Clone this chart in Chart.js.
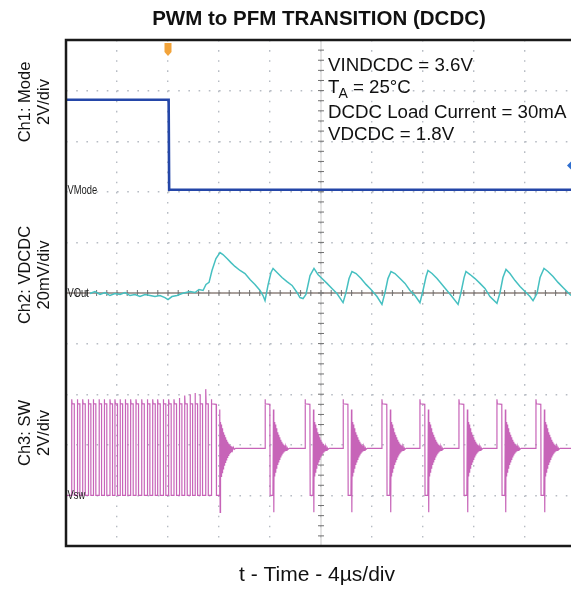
<!DOCTYPE html>
<html lang="en">
<head>
<meta charset="utf-8">
<title>PWM to PFM Transition (DCDC)</title>
<script src="https://cdn.jsdelivr.net/npm/chart.js"></script>
<style>
  html, body { margin: 0; padding: 0; background: #fff; overflow: hidden; }
  #wrap { width: 590px; height: 589px; }
</style>
</head>
<body>
<div id="wrap"><canvas id="scopeChart" width="590" height="589"></canvas></div>
<script>
// time base: 4 us/div, trigger at t = 0
const timeMin = -8, timeMax = 32, timePerDiv = 4;

// Ch1: Mode (V), 2V/div
const modeTime = [-8, 0.05, 0.09, 32];
const modeVolts = [3.56, 3.56, 0, 0];

// Ch2: VDCDC ripple (mV around 1.8V), 20mV/div
const outTime = [-6.12, -5.73, -5.33, -4.94, -4.55, -4.16, -3.76, -3.37, -2.98, -2.59, -2.20, -1.80, -1.41, -1.02, -0.63, -0.24, 0, 0.31, 0.71, 1.10, 1.41, 1.73, 2.12, 2.43, 2.75, 2.98, 3.22, 3.45, 3.76, 4.08, 4.31, 4.63, 4.94, 5.25, 5.65, 6.04, 6.43, 6.82, 7.22, 7.45, 7.61, 7.84, 8.08, 8.24, 8.55, 8.94, 9.33, 9.73, 10.12, 10.35, 10.59, 10.82, 11.14, 11.45, 11.76, 12.08, 12.47, 12.86, 13.25, 13.73, 13.96, 14.20, 14.43, 14.75, 15.14, 15.53, 15.92, 16.39, 16.78, 17.02, 17.25, 17.49, 17.80, 18.20, 18.59, 18.98, 19.37, 19.76, 20.00, 20.24, 20.39, 20.71, 21.10, 21.49, 21.88, 22.27, 22.75, 22.98, 23.22, 23.37, 23.69, 24.08, 24.47, 24.86, 25.25, 25.80, 26.04, 26.27, 26.51, 26.82, 27.22, 27.61, 28.00, 28.39, 28.63, 28.94, 29.18, 29.49, 29.80, 30.20, 30.59, 30.98, 31.37, 31.61];
const outMv = [-0.2, 0.6, -0.6, 0.2, -1.0, -0.2, -0.6, 0.2, -1.0, -0.6, -1.4, -0.6, -1.0, -1.4, -1.0, -1.8, -2.6, -1.4, -1.0, -0.2, 0.2, 0.6, 0.2, 1.4, 1.0, 3.4, 4.2, 8.9, 13.6, 16.0, 15.2, 13.6, 12.0, 10.5, 8.9, 7.7, 5.3, 3.4, 1.0, -1.0, -3.0, 3.0, 8.1, 9.7, 8.1, 6.1, 4.5, 3.0, 0.2, -1.8, -2.2, -0.6, 6.9, 9.7, 7.3, 5.7, 3.8, 1.8, -0.2, -3.8, 0.2, 5.7, 8.5, 7.7, 5.7, 3.4, 1.4, -1.4, -4.5, 0.2, 5.7, 8.5, 7.7, 5.7, 3.8, 1.0, -1.0, -3.8, 1.0, 6.5, 8.9, 7.7, 5.7, 3.4, 1.0, -1.4, -4.5, 0.2, 6.1, 8.5, 7.3, 5.7, 3.8, 1.8, -1.4, -4.1, 0.2, 6.1, 9.3, 7.7, 4.9, 2.6, 0.6, -1.4, -3.0, -0.2, 6.1, 9.7, 8.5, 6.5, 4.2, 2.2, 0.2, -1.0];

// Ch3: SW (V), 2V/div
const pwmRise = [-7.55, -7.11, -6.69, -6.25, -5.86, -5.41, -5.00, -4.55, -4.16, -3.76, -3.35, -2.93, -2.51, -2.06, -1.62, -1.20, -0.81, -0.37, 0.05, 0.47, 0.89, 1.31, 1.73, 2.12, 2.51, 2.96];
const pwmFall = [-7.35, -6.91, -6.49, -6.05, -5.66, -5.21, -4.80, -4.35, -3.96, -3.56, -3.15, -2.73, -2.31, -1.86, -1.42, -1.00, -0.61, -0.17, 0.25, 0.67, 1.09, 1.51, 1.93, 2.32, 2.71, 3.16];
const pwmPeak = [3.8, 3.8, 3.8, 3.8, 3.8, 3.8, 3.8, 3.8, 3.8, 3.8, 3.8, 3.8, 3.8, 3.8, 3.8, 3.8, 3.8, 3.8, 3.8, 3.8, 3.85, 3.95, 4.0, 4.05, 4.0, 4.2];
const pfmStart = [3.40, 7.61, 10.75, 13.73, 16.78, 19.76, 22.82, 25.80, 28.86];
// one PFM pulse (offset us, volts)
const pulseDt = [0, 0.03, 0.38, 0.40, 0.62, 0.66, 0.69, 0.72, 0.76, 0.80, 0.84, 0.88, 0.92, 0.96, 1.00, 1.04, 1.08, 1.12, 1.16, 1.20, 1.24, 1.28, 1.32, 1.36, 1.40, 1.44, 1.48, 1.52, 1.56, 1.60, 1.66, 1.72, 1.80, 1.90];
const pulseV = [3.8, 3.62, 3.6, 0, 0, 3.4, -0.67, 2.9, 0.75, 2.8, 0.9, 2.65, 1.05, 2.5, 1.2, 2.4, 1.3, 2.3, 1.4, 2.2, 1.5, 2.12, 1.58, 2.05, 1.65, 2.0, 1.7, 1.96, 1.74, 1.93, 1.78, 1.9, 1.82, 1.86];

// channel placement on the 10-div screen: zero position (div) and units per div
const chMode = { zero: 2.04, perDiv: 2 };
const chOut = { zero: 0, perDiv: 20 };
const chSw = { zero: -4, perDiv: 2 };
const modeTrigLevel = 0.96; // V, blue marker on the right edge

const place = (v, ch) => ch.zero + v / ch.perDiv;

const modePts = modeTime.map((t, i) => ({ x: t, y: place(modeVolts[i], chMode) }));
const outPts = outTime.map((t, i) => ({ x: t, y: place(outMv[i], chOut) }));

const swRaw = [{ x: timeMin, y: 0 }];
pwmRise.forEach((r, i) => {
    swRaw.push({ x: r, y: 0 }, { x: r, y: pwmPeak[i] }, { x: r + 0.03, y: 3.62 },
               { x: pwmFall[i], y: 3.62 }, { x: pwmFall[i], y: 0 });
});
pfmStart.forEach(s => {
    swRaw.push({ x: s, y: swRaw[swRaw.length - 1].y });
    pulseDt.forEach((d, j) => swRaw.push({ x: s + d, y: pulseV[j] }));
});
swRaw.push({ x: timeMax, y: swRaw[swRaw.length - 1].y });
const swPts = swRaw.map(p => ({ x: p.x, y: place(p.y, chSw) }));

const FONT = '"Liberation Sans", Arial, sans-serif';

const scopeDecor = {
    id: 'scopeDecor',
    beforeDatasetsDraw(chart) {
        const { ctx, chartArea: a, scales: { x, y } } = chart;
        const cx = x.getPixelForValue(12), cy = y.getPixelForValue(0);
        ctx.save();
        // centre axes with minor ticks
        ctx.strokeStyle = '#8d817b';
        ctx.lineWidth = 1.5;
        ctx.beginPath();
        ctx.moveTo(a.left, cy); ctx.lineTo(a.right, cy);
        ctx.stroke();
        ctx.strokeStyle = '#c9c9c9';
        ctx.lineWidth = 1;
        ctx.beginPath();
        ctx.moveTo(cx, a.top); ctx.lineTo(cx, a.bottom);
        ctx.stroke();
        ctx.strokeStyle = '#707070';
        ctx.lineWidth = 1;
        ctx.beginPath();
        for (let v = timeMin; v <= timeMax; v += timePerDiv / 5) {
            const px = x.getPixelForValue(v);
            ctx.moveTo(px, cy - 3); ctx.lineTo(px, cy + 3);
        }
        for (let v = -5; v <= 5.001; v += 0.2) {
            const py = y.getPixelForValue(v);
            ctx.moveTo(cx - 3, py); ctx.lineTo(cx + 3, py);
        }
        ctx.stroke();
        ctx.restore();
    },
    afterDraw(chart) {
        const { ctx, chartArea: a, scales: { x, y } } = chart;
        ctx.save();
        // frame
        ctx.strokeStyle = '#1a1a1a';
        ctx.lineWidth = 2.5;
        ctx.strokeRect(a.left, a.top, a.right - a.left, a.bottom - a.top);

        // title
        ctx.fillStyle = '#111';
        ctx.textAlign = 'center';
        ctx.textBaseline = 'alphabetic';
        ctx.font = 'bold 20.5px ' + FONT;
        ctx.fillText('PWM to PFM TRANSITION (DCDC)', 319, 25);

        // x label
        ctx.font = '21px ' + FONT;
        ctx.fillText('t - Time - 4\u00b5s/div', 317, 581);

        // channel labels on the left
        const side = [
            ['Ch1: Mode', '2V/div', 102],
            ['Ch2: VDCDC', '20mV/div', 275],
            ['Ch3: SW', '2V/div', 433]
        ];
        ctx.font = '16.5px ' + FONT;
        ctx.textBaseline = 'middle';
        side.forEach(([l1, l2, yc]) => {
            ctx.save();
            ctx.translate(25, yc);
            ctx.rotate(-Math.PI / 2);
            ctx.fillText(l1, 0, 0);
            ctx.restore();
            ctx.save();
            ctx.translate(44, yc);
            ctx.rotate(-Math.PI / 2);
            ctx.fillText(l2, 0, 0);
            ctx.restore();
        });

        // conditions box
        ctx.textAlign = 'left';
        ctx.textBaseline = 'alphabetic';
        const big = '18.7px ' + FONT;
        ctx.font = big;
        const tx = 328;
        ctx.fillText('VINDCDC = 3.6V', tx, 71);
        ctx.fillText('T', tx, 93);
        let w = ctx.measureText('T').width;
        ctx.font = '14px ' + FONT;
        ctx.fillText('A', tx + w - 1, 98);
        w += ctx.measureText('A').width;
        ctx.font = big;
        ctx.fillText(' = 25\u00b0C', tx + w - 1, 93);
        ctx.fillText('DCDC Load Current = 30mA', tx, 118);
        ctx.fillText('VDCDC = 1.8V', tx, 140);

        // ground markers
        ctx.font = '13px ' + FONT;
        ctx.fillStyle = '#1e1e1e';
        ctx.textBaseline = 'middle';
        [['VMode', chMode], ['VOut', chOut], ['Vsw', chSw]].forEach(([txt, ch]) => {
            ctx.save();
            ctx.translate(a.left + 1.5, y.getPixelForValue(ch.zero) + 0.5);
            ctx.scale(0.72, 1);
            ctx.fillText(txt, 0, 0);
            ctx.restore();
        });

        // trigger position marker
        const trx = x.getPixelForValue(0);
        ctx.fillStyle = '#f2a33a';
        ctx.beginPath();
        ctx.moveTo(trx - 3.5, a.top + 3);
        ctx.lineTo(trx + 3.5, a.top + 3);
        ctx.lineTo(trx + 3.5, a.top + 12);
        ctx.lineTo(trx, a.top + 16);
        ctx.lineTo(trx - 3.5, a.top + 12);
        ctx.closePath();
        ctx.fill();

        // trigger level marker at the right edge
        const lvy = y.getPixelForValue(place(modeTrigLevel, chMode));
        ctx.fillStyle = '#2f6fd0';
        ctx.beginPath();
        ctx.moveTo(567, lvy);
        ctx.lineTo(573, lvy - 6);
        ctx.lineTo(579, lvy);
        ctx.lineTo(573, lvy + 6);
        ctx.closePath();
        ctx.fill();
        ctx.restore();
    }
};

const gridStyle = { color: '#b7bcc4', lineWidth: 1.4, drawTicks: false };

new Chart(document.getElementById('scopeChart').getContext('2d'), {
    type: 'line',
    data: {
        datasets: [
            { label: 'Ch3: SW', data: swPts, borderColor: '#c764b8', borderWidth: 1.2 },
            { label: 'Ch2: VDCDC', data: outPts, borderColor: '#46c0c1', borderWidth: 1.5 },
            { label: 'Ch1: Mode', data: modePts, borderColor: '#2446a8', borderWidth: 2.6 }
        ]
    },
    options: {
        responsive: false,
        animation: false,
        layout: { padding: { left: 66, top: 40, right: 14, bottom: 43 } },
        elements: { point: { radius: 0 }, line: { tension: 0 } },
        plugins: { legend: { display: false }, tooltip: { enabled: false } },
        scales: {
            x: {
                type: 'linear', min: timeMin, max: timeMax,
                ticks: { display: false, stepSize: timePerDiv },
                grid: gridStyle,
                border: { display: false, dash: [1.6, 8.52] }
            },
            y: {
                type: 'linear', min: -5, max: 5,
                ticks: { display: false, stepSize: 1 },
                grid: gridStyle,
                border: { display: false, dash: [1.6, 8.6] }
            }
        }
    },
    plugins: [scopeDecor]
});
</script>
</body>
</html>
